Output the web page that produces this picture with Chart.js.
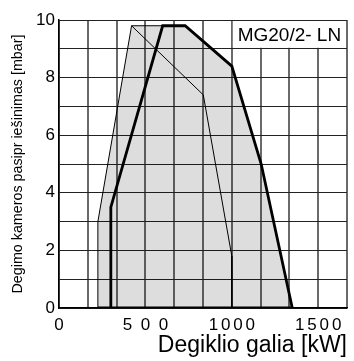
<!DOCTYPE html>
<html lang="lt">
<head>
<meta charset="UTF-8">
<title>MG20/2- LN</title>
<script src="https://cdn.jsdelivr.net/npm/chart.js@4"></script>
<style>body{margin:0;background:#fff}</style>
</head>
<body>
<canvas id="myChart" width="354" height="361"></canvas>
<script>
// working field (kW, mbar)
const envelopeX = [225, 225, 420, 730, 1000, 1170, 1350];
const envelopeY = [0, 3, 9.8, 9.8, 8.4, 5, 0];
const heavyX = [225, 1350, 1170, 1000, 730, 600, 300, 300];
const heavyY = [0, 0, 5, 8.4, 9.8, 9.8, 3.5, 0];
const innerX = [420, 835, 1000, 1000];
const innerY = [9.8, 7.4, 1.8, 0];

const xTickValues = [0, 500, 1000, 1500];
const xTickLabels = ['0', '5\u20020\u20020', '1\u20060\u20060\u20060', '1\u20065\u20060\u20060'];
const yTickLabels = ['0', '2', '4', '6', '8', '10'];
const modelName = 'MG20/2- LN';
const xMax = 5000 / 3;   // 10 grid cells, 166.7 kW each
const FONT = '"Liberation Sans", Arial, Helvetica, sans-serif';

const pts = (xs, ys) => xs.map((x, i) => ({x: x, y: ys[i]}));

// white label box in the top right cell row
const modelBox = {
  id: 'modelBox',
  beforeDatasetsDraw(chart) {
    const {ctx, chartArea, scales: {x, y}} = chart;
    const l = x.getPixelForValue(1000), b = y.getPixelForValue(9);
    ctx.save();
    ctx.fillStyle = '#fff';
    ctx.fillRect(l + 1, chartArea.top + 1, chartArea.right - l - 2, b - chartArea.top - 2);
    ctx.fillStyle = '#000';
    ctx.font = '19px ' + FONT;
    ctx.textAlign = 'center';
    ctx.textBaseline = 'middle';
    ctx.fillText(modelName, (l + chartArea.right) / 2, (b + chartArea.top) / 2 + 1);
    ctx.restore();
  }
};

const ctx = document.getElementById('myChart').getContext('2d');
new Chart(ctx, {
  type: 'line',
  data: {
    datasets: [
      {
        data: pts(envelopeX, envelopeY),
        borderColor: '#000',
        borderWidth: 1,
        backgroundColor: 'rgba(0,0,0,0.135)',
        fill: 'origin'
      },
      {
        data: pts(innerX, innerY),
        borderColor: '#000',
        borderWidth: 1,
        fill: false
      },
      {
        data: pts(heavyX, heavyY),
        borderColor: '#000',
        borderWidth: 2.8,
        fill: false
      }
    ]
  },
  options: {
    responsive: false,
    animation: false,
    layout: {padding: {top: 20, right: 3, left: 0, bottom: 0}},
    elements: {point: {radius: 0}, line: {tension: 0, borderJoinStyle: 'miter'}},
    plugins: {legend: {display: false}, tooltip: {enabled: false}},
    scales: {
      x: {
        type: 'linear',
        min: 0,
        max: xMax,
        afterBuildTicks: s => { s.ticks = Array.from({length: 11}, (_, i) => ({value: i * xMax / 10})); },
        afterFit: s => { s.height = 53; },
        grid: {color: '#6a6a6a', lineWidth: 2, drawTicks: false},
        border: {color: '#000', width: 1.5},
        ticks: {
          autoSkip: false,
          maxRotation: 0,
          padding: 7,
          color: '#000',
          font: {family: FONT, size: 17},
          callback: v => {
            const i = xTickValues.findIndex(t => Math.abs(t - v) < 1);
            return i >= 0 ? xTickLabels[i] : '';
          }
        },
        title: {
          display: true,
          text: 'Degiklio galia [kW]',
          align: 'end',
          color: '#000',
          font: {family: FONT, size: 23, lineHeight: 1.2},
          padding: {top: 0, bottom: 2}
        }
      },
      y: {
        min: 0,
        max: 10,
        afterBuildTicks: s => { s.ticks = Array.from({length: 11}, (_, i) => ({value: i})); },
        afterFit: s => { s.width = 59; },
        grid: {color: '#222', lineWidth: 1, drawTicks: false},
        border: {color: '#000', width: 1.5},
        ticks: {
          padding: 4,
          color: '#000',
          font: {family: FONT, size: 17},
          callback: v => {
            const i = yTickLabels.indexOf(String(v));
            return i >= 0 ? yTickLabels[i] : '';
          }
        },
        title: {
          display: true,
          text: 'Degimo kameros pasipr iešinimas [mbar]',
          color: '#000',
          font: {family: FONT, size: 14.3, lineHeight: 1.2},
          padding: {top: 9, bottom: 0}
        }
      }
    }
  },
  plugins: [modelBox]
});
</script>
</body>
</html>
